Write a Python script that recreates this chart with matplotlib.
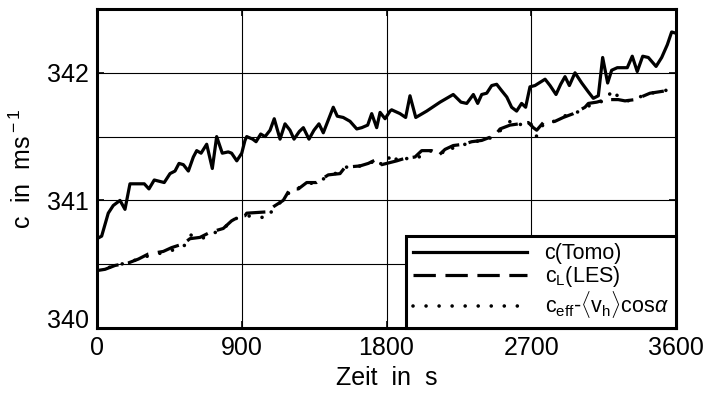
import matplotlib
matplotlib.use("Agg")
import matplotlib.pyplot as plt

plt.rcParams["font.family"] = ["Liberation Sans", "DejaVu Sans"]
plt.rcParams["mathtext.fontset"] = "custom"
plt.rcParams["mathtext.rm"] = "Liberation Sans"
plt.rcParams["mathtext.it"] = "Liberation Sans:italic"

# --- c(Tomo) ---
tomo_t = [0, 29, 70, 101, 143, 174, 205, 247, 294, 323, 356, 418, 454, 485, 510,
          537, 568, 599, 620, 647, 682, 717, 744, 779, 816, 837, 869, 900, 920,
          931, 968, 989, 1018, 1045, 1076, 1102, 1138, 1169, 1200, 1225, 1258,
          1283, 1318, 1349, 1380, 1407, 1438, 1469, 1494, 1531, 1573, 1615, 1646,
          1683, 1708, 1739, 1760, 1791, 1822, 1832, 1884, 1919, 1946, 1982, 2050,
          2133, 2215, 2263, 2299, 2340, 2367, 2392, 2423, 2454, 2485, 2516, 2548,
          2578, 2609, 2640, 2665, 2692, 2723, 2786, 2817, 2854, 2883, 2910, 2937,
          2972, 3014, 3055, 3086, 3117, 3144, 3175, 3200, 3235, 3297, 3328, 3359,
          3393, 3428, 3476, 3511, 3546, 3573, 3600]
tomo_c = [340.70, 340.72, 340.90, 340.96, 341.00, 340.93, 341.13, 341.13, 341.13,
          341.09, 341.16, 341.14, 341.21, 341.23, 341.29, 341.28, 341.23, 341.34,
          341.39, 341.37, 341.44, 341.25, 341.50, 341.37, 341.38, 341.37, 341.31,
          341.37, 341.47, 341.50, 341.48, 341.46, 341.52, 341.50, 341.55, 341.64,
          341.48, 341.60, 341.55, 341.48, 341.54, 341.57, 341.48, 341.55, 341.60,
          341.53, 341.63, 341.73, 341.66, 341.65, 341.62, 341.56, 341.57, 341.59,
          341.68, 341.57, 341.69, 341.64, 341.70, 341.71, 341.68, 341.65, 341.82,
          341.65, 341.70, 341.77, 341.83, 341.77, 341.76, 341.83, 341.76, 341.83,
          341.84, 341.90, 341.91, 341.86, 341.81, 341.73, 341.70, 341.76, 341.73,
          341.89, 341.90, 341.95, 341.90, 341.83, 341.91, 341.97, 341.90, 342.00,
          341.92, 341.85, 341.80, 341.82, 342.12, 341.92, 342.02, 342.04, 342.04,
          342.13, 342.01, 342.13, 342.12, 342.05, 342.12, 342.22, 342.32, 342.31]

# --- c_L(LES) ---
les_t = [0, 50, 112, 195, 257, 319, 412, 464, 537, 578, 640, 703, 785, 837, 879,
         920, 931, 1055, 1096, 1158, 1200, 1252, 1304, 1365, 1438, 1511, 1542,
         1635, 1687, 1735, 1770, 1864, 1915, 1977, 2019, 2081, 2122, 2164, 2215,
         2278, 2330, 2392, 2475, 2506, 2568, 2682, 2713, 2734, 2775, 2848, 2899,
         2962, 3034, 3055, 3107, 3165, 3241, 3283, 3345, 3438, 3490, 3542, 3580]
les_c = [340.45, 340.46, 340.49, 340.51, 340.54, 340.58, 340.60, 340.63, 340.66,
         340.70, 340.71, 340.75, 340.78, 340.84, 340.87, 340.88, 340.90, 340.91,
         340.95, 341.00, 341.09, 341.09, 341.14, 341.14, 341.20, 341.21, 341.26,
         341.27, 341.29, 341.32, 341.28, 341.31, 341.33, 341.34, 341.39, 341.39,
         341.35, 341.40, 341.43, 341.44, 341.46, 341.47, 341.51, 341.56, 341.59,
         341.61, 341.57, 341.55, 341.61, 341.62, 341.65, 341.68, 341.73, 341.76,
         341.77, 341.79, 341.79, 341.78, 341.79, 341.84, 341.85, 341.86, 341.87]

# --- c_eff - <v_h> cos(alpha) ---
eff_t = [0, 60, 150, 260, 330, 410, 470, 540, 580, 650, 720, 790, 840, 900, 960,
         1063, 1100, 1160, 1210, 1260, 1320, 1380, 1440, 1500, 1545, 1640, 1700,
         1740, 1775, 1840, 1870, 1930, 1990, 2050, 2120, 2170, 2220, 2290, 2340,
         2400, 2470, 2510, 2578, 2620, 2690, 2734, 2780, 2850, 2900, 2970, 3040,
         3110, 3170, 3200, 3250, 3300, 3350, 3440, 3500, 3560, 3590]
eff_c = [340.45, 340.47, 340.50, 340.54, 340.57, 340.59, 340.61, 340.64, 340.73,
         340.70, 340.74, 340.78, 340.85, 340.87, 340.88, 340.86, 340.95, 341.00,
         341.09, 341.10, 341.13, 341.15, 341.19, 341.22, 341.26, 341.27, 341.29,
         341.33, 341.27, 341.37, 341.30, 341.33, 341.33, 341.38, 341.40, 341.36,
         341.42, 341.44, 341.46, 341.47, 341.50, 341.55, 341.63, 341.59, 341.62,
         341.50, 341.61, 341.62, 341.66, 341.68, 341.73, 341.77, 341.78, 341.87,
         341.80, 341.78, 341.80, 341.84, 341.85, 341.87, 341.87]

x_ticks = [0, 900, 1800, 2700, 3600]
y_ticks = [340, 341, 342]

fig = plt.figure(figsize=(7.08, 3.98), dpi=100)
ax = fig.add_axes([97 / 708, 70 / 398, 579 / 708, 319 / 398])

ax.plot(tomo_t, tomo_c, color="black", lw=2.3, label="c(Tomo)")
ax.plot(les_t, les_c, color="black", lw=2.3, ls=(0, (7, 3)),
        label=r"c$_{\rm L}$(LES)")
ax.plot(eff_t, eff_c, color="black", lw=2.6, ls=(0, (0.01, 3.6)),
        dash_capstyle="round",
        label=r"c$_{\rm eff}$-$\langle$v$_{\rm h}\rangle$cos$\alpha$")

ax.set_xlim(0, 3600)
ax.set_ylim(340, 342.5)
ax.set_xticks(x_ticks)
ax.set_xticklabels([str(v) for v in x_ticks])
ax.set_yticks(y_ticks)
ax.set_yticklabels([str(v) for v in y_ticks])
ax.set_yticks([340.5, 341.5], minor=True)
ax.grid(which="both", color="black", lw=0.8)
ax.tick_params(which="major", direction="in", length=5, width=1.2,
               labelsize=18, top=True, right=True, pad=6)
ax.tick_params(which="minor", length=0)
for lab in ax.get_yticklabels():
    if lab.get_text() == "340":
        lab.set_va("baseline")
for sp in ax.spines.values():
    sp.set_linewidth(2.2)

ax.set_xlabel("Zeit  in  s", fontsize=18, labelpad=4)
ax.set_ylabel(r"c  in  ms$^{\rm -1}$", fontsize=18, labelpad=8)

leg = ax.legend(loc="lower right", fontsize=15.5, fancybox=False, framealpha=1,
                edgecolor="black", borderaxespad=0, handlelength=5.3,
                handletextpad=0.8, labelspacing=0.0, borderpad=0.35)
leg.get_frame().set_linewidth(2.2)

fig.savefig("out.png", dpi=100, facecolor="white")
